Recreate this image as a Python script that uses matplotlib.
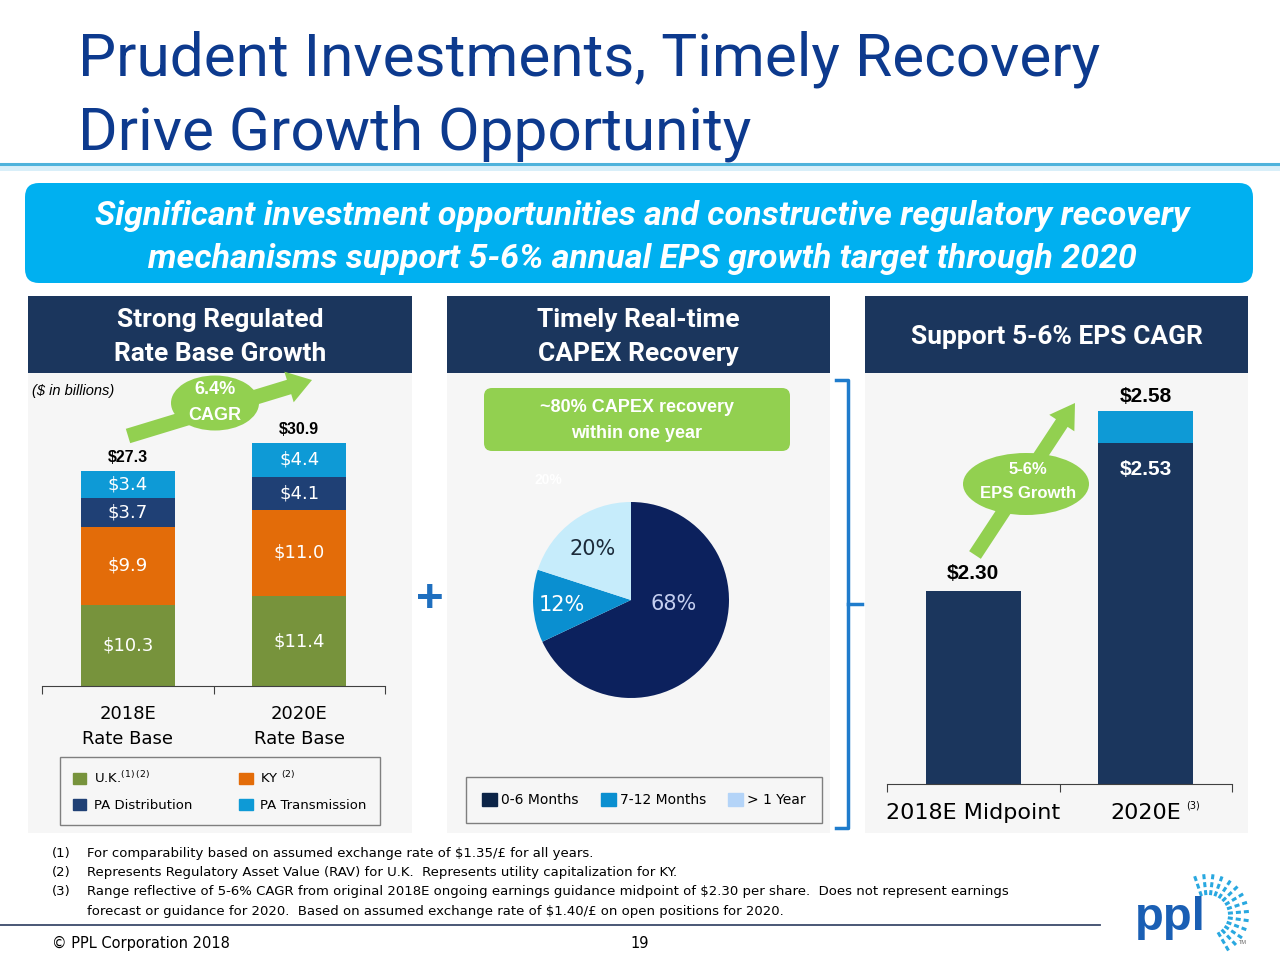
import numpy as np
import matplotlib.pyplot as plt
from matplotlib.patches import Rectangle, FancyBboxPatch, Ellipse, FancyArrow, Patch

W, H = 1280, 960

# ---- data ----
rate_base_labels = ['2018E\nRate Base', '2020E\nRate Base']
uk = [10.3, 11.4]
ky = [9.9, 11.0]
pa_dist = [3.7, 4.1]
pa_trans = [3.4, 4.4]
rate_base_total = [27.3, 30.9]
rate_base_series = ['U.K.$^{(1)\\,(2)}$', 'KY $^{(2)}$', 'PA Distribution', 'PA Transmission']

capex_labels = ['0-6 Months', '7-12 Months', '> 1 Year']
capex_share = [68, 12, 20]

eps_labels = ['2018E Midpoint', '2020E']
eps_notes = ['', '(3)']
eps_low = [2.30, 2.53]
eps_high = [2.30, 2.58]

footnotes = [
    ('(1)', 'For comparability based on assumed exchange rate of $1.35/£ for all years.'),
    ('(2)', 'Represents Regulatory Asset Value (RAV) for U.K.  Represents utility capitalization for KY.'),
    ('(3)', 'Range reflective of 5-6% CAGR from original 2018E ongoing earnings guidance midpoint of $2.30 per share.  Does not represent earnings'),
    ('', 'forecast or guidance for 2020.  Based on assumed exchange rate of $1.40/£ on open positions for 2020.'),
]

# ---- colors ----
GREEN = '#77933c'
ORANGE = '#e36c09'
NAVY = '#1f4075'
CYAN = '#0e9ad6'
HEAD = '#1b365d'
LIME = '#92d050'
PANEL = '#f6f6f6'
TITLE = '#0d3a8e'
BRACKET = '#1f7ccc'

ROBO = ['Roboto', 'DejaVu Sans']
SANS = ['Liberation Sans', 'DejaVu Sans']
DEJA = ['DejaVu Sans']
plt.rcParams['font.family'] = SANS


def box(x0, y0, x1, y1):
    return [x0 / W, 1 - y1 / H, (x1 - x0) / W, (y1 - y0) / H]


fig = plt.figure(figsize=(12.8, 9.6), dpi=100)
fig.patch.set_facecolor('white')

bg = fig.add_axes([0, 0, 1, 1], zorder=0)
bg.set_xlim(0, W)
bg.set_ylim(H, 0)
bg.axis('off')

fg = fig.add_axes([0, 0, 1, 1], zorder=5)
fg.set_xlim(0, W)
fg.set_ylim(H, 0)
fg.axis('off')
fg.patch.set_alpha(0)

# ---- title ----
bg.text(78, 75, 'Prudent Investments, Timely Recovery', fontsize=43.5, color=TITLE,
        family=ROBO, va='baseline')
bg.text(78, 150, 'Drive Growth Opportunity', fontsize=43.5, color=TITLE,
        family=ROBO, va='baseline')
bg.add_patch(Rectangle((0, 165), W, 6, color='#d9eff9', lw=0))
bg.plot([0, W], [164, 164], color='#4fb3dc', lw=2.2)

# ---- banner ----
bg.add_patch(FancyBboxPatch((25, 183), 1228, 100, boxstyle='round,pad=0,rounding_size=14',
                            fc='#00b0f0', ec='none'))
bg.text(642, 216, 'Significant investment opportunities and constructive regulatory recovery',
        fontsize=24.5, color='white', style='italic', weight='bold', family=ROBO,
        ha='center', va='center')
bg.text(642, 259, 'mechanisms support 5-6% annual EPS growth target through 2020',
        fontsize=24.5, color='white', style='italic', weight='bold', family=ROBO,
        ha='center', va='center')

# ---- panels ----
panels = [(28, 412, 'Strong Regulated\nRate Base Growth'),
          (447, 830, 'Timely Real-time\nCAPEX Recovery'),
          (865, 1248, 'Support 5-6% EPS CAGR')]
for x0, x1, head in panels:
    bg.add_patch(Rectangle((x0, 296), x1 - x0, 77, color=HEAD, lw=0))
    bg.add_patch(Rectangle((x0, 373), x1 - x0, 460, color=PANEL, lw=0))
    bg.text((x0 + x1) / 2, 337, head, fontsize=19, color='white', weight='bold',
            family=ROBO, ha='center', va='center', linespacing=1.5)

# ---- left: rate base stacked bars ----
ax1 = fig.add_axes(box(42, 380, 385, 686), zorder=2)
ax1.patch.set_alpha(0)
x = np.arange(len(rate_base_labels))
bw = 0.55
bottom = np.zeros(len(x))
for vals, col in zip([uk, ky, pa_dist, pa_trans], [GREEN, ORANGE, NAVY, CYAN]):
    ax1.bar(x, vals, bw, bottom=bottom, color=col, zorder=2)
    for xi, b, v in zip(x, bottom, vals):
        ax1.text(xi, b + v / 2, f'${v:.1f}', color='white', fontsize=13,
                 family=DEJA, ha='center', va='center', zorder=3)
    bottom += np.array(vals)
for xi, t in zip(x, rate_base_total):
    ax1.annotate(f'${t:.1f}', (xi, t), xytext=(0, 4), textcoords='offset points',
                 ha='center', va='bottom', fontsize=11.5, weight='bold')
ax1.set_xlim(-0.5, 1.5)
ax1.set_ylim(0, 306 / 7.875)
for s in ['top', 'right', 'left']:
    ax1.spines[s].set_visible(False)
ax1.spines['bottom'].set_color('#404040')
ax1.set_yticks([])
ax1.set_xticks([-0.5, 0.5, 1.5])
ax1.set_xticklabels([])
ax1.tick_params(axis='x', length=6, color='#404040', direction='out')
for xi, lab in zip(x, rate_base_labels):
    ax1.annotate(lab, (xi, 0), xytext=(0, -14), textcoords='offset points',
                 ha='center', va='top', fontsize=13, family=DEJA, linespacing=1.45)

handles = [Patch(color=c) for c in [GREEN, ORANGE, NAVY, CYAN]]
order = [0, 2, 1, 3]
leg1 = ax1.legend([handles[i] for i in order], [rate_base_series[i] for i in order],
                  ncol=2, mode='expand', loc='upper left',
                  bbox_to_anchor=(60 / W, 1 - 757 / H, 320 / W, 0),
                  bbox_transform=fig.transFigure, frameon=True,
                  fancybox=False, edgecolor='#7f7f7f', facecolor=PANEL, framealpha=1,
                  handlelength=1.0, handleheight=1.0, handletextpad=0.6,
                  borderpad=1.0, labelspacing=0.95, borderaxespad=0,
                  prop={'family': DEJA, 'size': 9.5})

bg.text(32, 391, '($ in billions)', fontsize=10.5, style='italic', va='center')

# CAGR arrow
fg.add_patch(FancyArrow(128, 436, 312 - 128, 380 - 436, width=15, head_width=32,
                        head_length=24, length_includes_head=True, color=LIME, lw=0))
fg.add_patch(Ellipse((215, 403), 88, 55, color=LIME, lw=0))
fg.text(215, 389, '6.4%', color='white', weight='bold', fontsize=13, ha='center', va='center')
fg.text(215, 415, 'CAGR', color='white', weight='bold', fontsize=13, ha='center', va='center')

# ---- middle: pie ----
fg.add_patch(FancyBboxPatch((484, 388), 306, 63, boxstyle='round,pad=0,rounding_size=8',
                            fc=LIME, ec='none'))
fg.text(637, 408, '~80% CAPEX recovery', color='white', weight='bold', fontsize=13,
        ha='center', va='center')
fg.text(637, 434, 'within one year', color='white', weight='bold', fontsize=13,
        ha='center', va='center')

ax2 = fig.add_axes(box(533, 502, 729, 698), zorder=2)
pie_colors = ['#0c215d', '#0a8fd0', '#c6ecfb']
wedges, _ = ax2.pie(capex_share, colors=pie_colors, startangle=90, counterclock=False,
                    radius=1, wedgeprops=dict(lw=0))
ax2.set_xlim(-1, 1)
ax2.set_ylim(-1, 1)
pie_label_pos = [(0.44, -0.04), (-0.71, -0.05), (-0.39, 0.52)]
pie_label_col = ['#c5cff0', 'white', '#1c2b3a']
for v, (lx, ly), c in zip(capex_share, pie_label_pos, pie_label_col):
    ax2.text(lx, ly, f'{v}%', color=c, fontsize=15, family=DEJA, ha='center', va='center')
bg.text(548, 480, f'{capex_share[2]}%', color='white', fontsize=10, weight='bold',
        ha='center', va='center')

leg_cols = ['#0b2346', '#0a8fd0', '#b4d4f8']
leg2 = ax2.legend([Patch(color=c) for c in leg_cols], capex_labels, ncol=3, mode='expand',
                  loc='upper left', bbox_to_anchor=(466 / W, 1 - 777 / H, 356 / W, 0),
                  bbox_transform=fig.transFigure, frameon=True,
                  fancybox=False, edgecolor='#7f7f7f', facecolor=PANEL, framealpha=1,
                  handlelength=1.1, handleheight=1.1, handletextpad=0.3,
                  columnspacing=0.8, borderpad=1.15, borderaxespad=0,
                  prop={'family': DEJA, 'size': 10})

# plus sign and bracket
fg.text(430, 600, '+', color='#1f6fbf', fontsize=34, weight='bold', ha='center', va='center')
fg.plot([836, 848, 848, 836], [380, 380, 828, 828], color=BRACKET, lw=2.5,
        solid_joinstyle='round')
fg.plot([848, 862], [604, 604], color=BRACKET, lw=2.5)

# ---- right: EPS bars ----
ax3 = fig.add_axes(box(887, 380, 1232, 784), zorder=2)
ax3.patch.set_alpha(0)
xe = np.arange(len(eps_labels))
ymin = 2.0
ax3.bar(xe, np.array(eps_low) - ymin, bw, bottom=ymin, color=HEAD, zorder=2)
ax3.bar(xe, np.array(eps_high) - np.array(eps_low), bw, bottom=eps_low, color=CYAN, zorder=2)
ax3.set_xlim(-0.5, 1.5)
ax3.set_ylim(ymin, ymin + 404 / 643)
for s in ['top', 'right', 'left']:
    ax3.spines[s].set_visible(False)
ax3.spines['bottom'].set_color('#404040')
ax3.set_yticks([])
ax3.set_xticks([-0.5, 0.5, 1.5])
ax3.set_xticklabels([])
ax3.tick_params(axis='x', length=6, color='#404040', direction='out')
for xi, lab, note in zip(xe, eps_labels, eps_notes):
    ax3.annotate(lab, (xi, ymin), xytext=(0, -14), textcoords='offset points',
                 ha='center', va='top', fontsize=16, family=DEJA)
    if note:
        ax3.annotate(note, (xi, ymin), xytext=(29, -12), textcoords='offset points',
                     ha='left', va='top', fontsize=7, family=DEJA)
ax3.annotate(f'${eps_high[0]:.2f}', (0, eps_high[0]), xytext=(0, 6), textcoords='offset points',
             ha='center', va='bottom', fontsize=15, weight='bold')
ax3.annotate(f'${eps_high[1]:.2f}', (1, eps_high[1]), xytext=(0, 4), textcoords='offset points',
             ha='center', va='bottom', fontsize=15, weight='bold')
ax3.annotate(f'${eps_low[1]:.2f}', (1, eps_low[1]), xytext=(0, -19), textcoords='offset points',
             ha='center', va='center', fontsize=15, weight='bold', color='white')

fg.add_patch(FancyArrow(975, 555, 1075 - 975, 403 - 555, width=14, head_width=30,
                        head_length=24, length_includes_head=True, color=LIME, lw=0))
fg.add_patch(Ellipse((1026, 484), 126, 62, color=LIME, lw=0))
fg.text(1028, 469, '5-6%', color='white', weight='bold', fontsize=12, ha='center', va='center')
fg.text(1028, 494, 'EPS Growth', color='white', weight='bold', fontsize=12, ha='center', va='center')

# ---- footnotes ----
for i, (num, txt) in enumerate(footnotes):
    y = 853 + i * 19.5
    bg.text(52, y, num, fontsize=9.5, family=DEJA, va='center')
    bg.text(87, y, txt, fontsize=9.5, family=DEJA, va='center')
bg.plot([0, 1100], [925, 925], color='#3a4a6a', lw=1.3)
bg.text(52, 943, '© PPL Corporation 2018', fontsize=10.5, family=DEJA, va='center')
bg.text(640, 943, '19', fontsize=10.5, family=DEJA, va='center', ha='center')

# ---- logo ----
bg.text(1170, 918, 'ppl', fontsize=34, weight='bold', color='#1a5fb4', ha='center',
        va='center', family=SANS)
cx, cy = 1208, 915
for a in np.arange(-60, 121, 13):
    r = np.radians(a)
    for r0, r1 in [(20, 25), (28, 33), (36, 41)]:
        bg.plot([cx + r0 * np.cos(r), cx + r1 * np.cos(r)],
                [cy - r0 * np.sin(r), cy - r1 * np.sin(r)], color='#29a8e0', lw=2.2,
                solid_capstyle='butt')
bg.text(1243, 943, 'TM', fontsize=4, color='#666666', ha='center', va='center')

fig.savefig('out.png', dpi=100)
